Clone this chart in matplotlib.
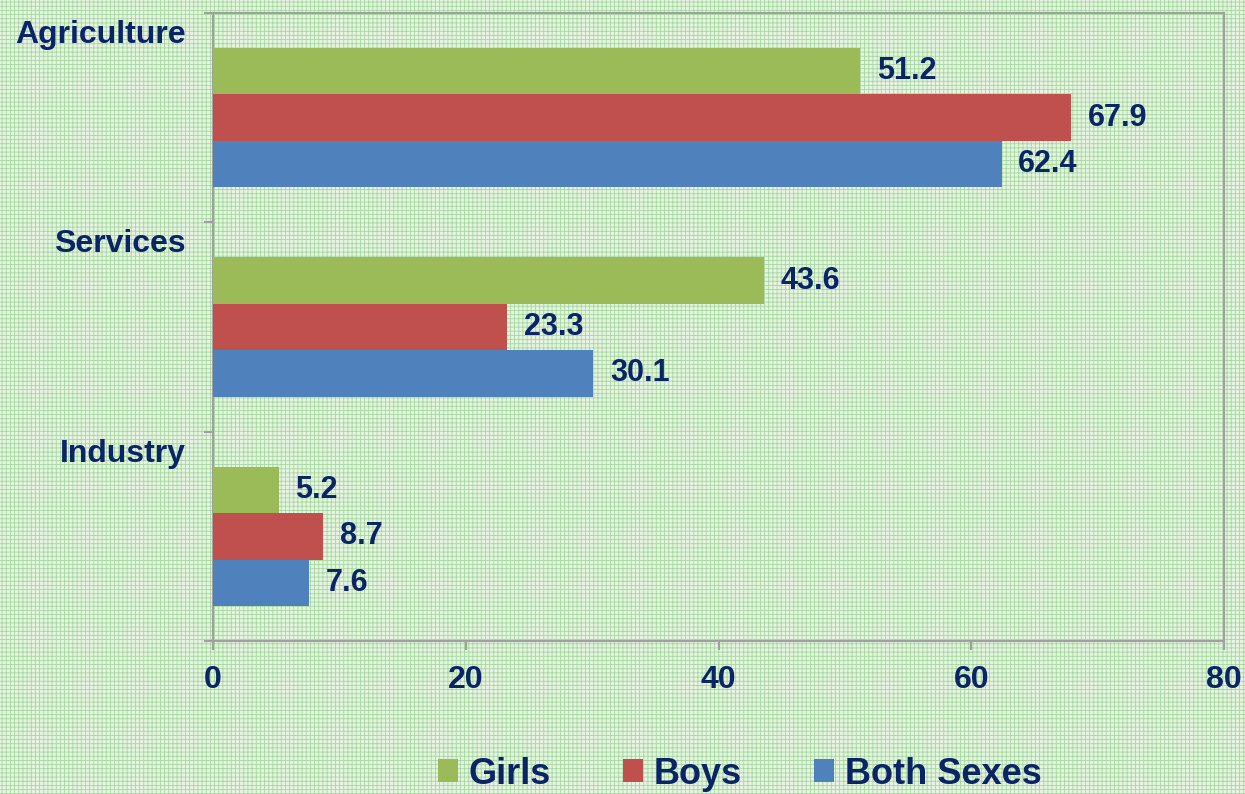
import numpy as np
import matplotlib.pyplot as plt
from matplotlib.patches import Patch, Rectangle
from matplotlib.transforms import blended_transform_factory

categories = ['Agriculture', 'Services', 'Industry']
series = ['Girls', 'Boys', 'Both Sexes']
girls = [51.2, 43.6, 5.2]
boys = [67.9, 23.3, 8.7]
both = [62.4, 30.1, 7.6]
xticks = [0, 20, 40, 60, 80]

colors = ['#9BBB59', '#C0504D', '#4F81BD']
navy = '#0B2466'
grey = '#A0A0A0'

plt.rcParams['font.family'] = ['Liberation Sans', 'DejaVu Sans']
plt.rcParams['font.weight'] = 'bold'
plt.rcParams['hatch.linewidth'] = 0.6

fig = plt.figure(figsize=(12.45, 7.94), dpi=100)
fig.patch.set_facecolor('#E6F3E1')
bg = Rectangle((0, 0), 1, 1, transform=fig.transFigure, facecolor='none',
               edgecolor='#A6D7A0', hatch='++++', linewidth=0, zorder=-10)
fig.patches.append(bg)

ax = fig.add_axes([213/1245, 1-641/794, (1224-213)/1245, (641-13)/794])
ax.set_facecolor('none')

h = 0.222
centers = np.arange(len(categories)) + 0.5
for k, (vals, col) in enumerate(zip([girls, boys, both], colors)):
    ys = centers + (k - 1) * h
    ax.barh(ys, vals, height=h, color=col, zorder=3)
    for y, v in zip(ys, vals):
        ax.annotate(f'{v}', xy=(v, y), xytext=(12, 0), textcoords='offset points',
                    ha='left', va='center', fontsize=22, fontweight='bold', color=navy)

ax.set_xlim(0, 80)
ax.set_ylim(3, 0)
ax.set_xticks(xticks)
ax.set_xticklabels([str(t) for t in xticks], fontsize=23, fontweight='bold', color=navy)
ax.set_yticks([0, 1, 2, 3])
ax.set_yticklabels([])
ax.tick_params(axis='both', direction='out', length=6.5, width=1.5, color=grey)
ax.tick_params(axis='x', pad=11)
for s in ax.spines.values():
    s.set_color(grey)
    s.set_linewidth(1.5)

tr = blended_transform_factory(ax.transAxes, ax.transData)
for i, c in enumerate(categories):
    ax.text(-0.027, i + 0.105, c, transform=tr, ha='right', va='center',
            fontsize=23, fontweight='bold', color=navy)

handles = [Patch(facecolor=c, edgecolor='none') for c in colors]
leg = fig.legend(handles, series, loc='center', bbox_to_anchor=(0.594, 0.025), ncol=3,
                 frameon=False, fontsize=26, handlelength=0.55, handleheight=0.6,
                 handletextpad=0.3, columnspacing=2.0, borderaxespad=0)
for t in leg.get_texts():
    t.set_color(navy)
    t.set_fontweight('bold')

fig.savefig('out.png', dpi=100, facecolor=fig.get_facecolor())
